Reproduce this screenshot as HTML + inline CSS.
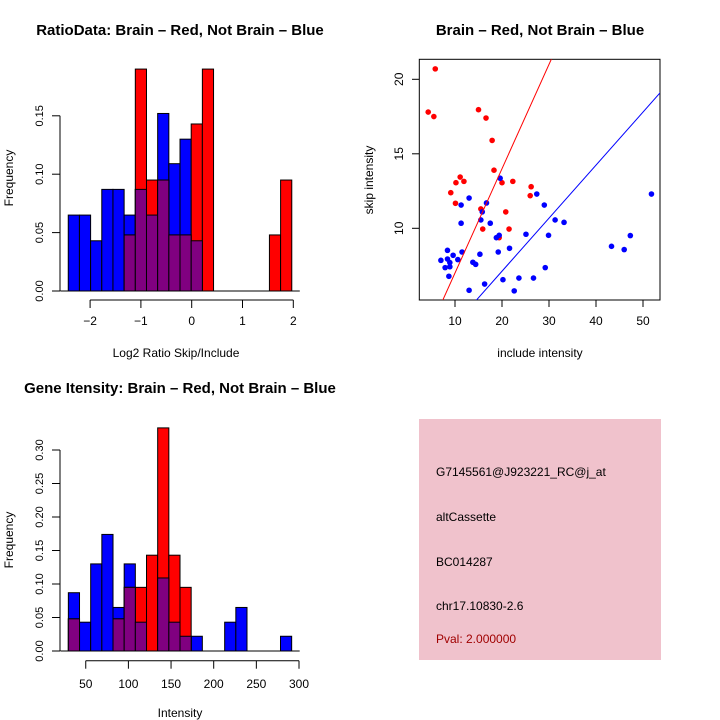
<!DOCTYPE html>
<html><head><meta charset="utf-8"><style>
html,body{margin:0;padding:0;background:#fff;}
svg{display:block;font-family:"Liberation Sans",sans-serif;}
</style></head><body>
<svg id="s" width="720" height="720" viewBox="0 0 720 720">
<rect x="0" y="0" width="720" height="720" fill="#fff"/>
<text x="180" y="35" font-size="15" font-weight="bold" text-anchor="middle">RatioData: Brain – Red, Not Brain – Blue</text>
<text x="176" y="357" font-size="12" text-anchor="middle">Log2 Ratio Skip/Include</text>
<text transform="translate(13,178) rotate(-90)" font-size="12" text-anchor="middle">Frequency</text>
<text x="540" y="35" font-size="15" font-weight="bold" text-anchor="middle">Brain – Red, Not Brain – Blue</text>
<text x="540" y="357" font-size="12" text-anchor="middle">include intensity</text>
<text transform="translate(373,180) rotate(-90)" font-size="12" text-anchor="middle">skip intensity</text>
<text x="180" y="393" font-size="15" font-weight="bold" text-anchor="middle">Gene Itensity: Brain – Red, Not Brain – Blue</text>
<text x="180" y="717" font-size="12" text-anchor="middle">Intensity</text>
<text transform="translate(13,540) rotate(-90)" font-size="12" text-anchor="middle">Frequency</text>
<g>
<rect x="419" y="419" width="242" height="241" fill="#f0c2cc"/>
<text x="436" y="476" font-size="12">G7145561@J923221_RC@j_at</text>
<text x="436" y="521" font-size="12">altCassette</text>
<text x="436" y="566" font-size="12">BC014287</text>
<text x="436" y="610" font-size="12">chr17.10830-2.6</text>
<text x="436" y="643" font-size="12" fill="#a00000">Pval: 2.000000</text>
</g>
</svg>
<script>
// Ratio histogram data
const ratioStart = -2.43, ratioWidth = 0.22;
const ratioBlue = [0.065,0.065,0.043,0.087,0.087,0.065,0.087,0.065,0.152,0.109,0.130,0.043,0,0,0,0,0,0,0,0];
const ratioRed  = [0,0,0,0,0,0.048,0.19,0.095,0.095,0.048,0.048,0.143,0.19,0,0,0,0,0,0.048,0.095];
const ratioYTicks = [0,0.05,0.10,0.15];
const ratioYLabels = ["0.00","0.05","0.10","0.15"];
const ratioXTicks = [-2,-1,0,1,2];
// Intensity histogram data
const intStart = 29.6, intWidth = 13.09;
const intBlue = [0.087,0.043,0.13,0.174,0.065,0.13,0.043,0,0.109,0.043,0.022,0.022,0,0,0.043,0.065,0,0,0,0.022];
const intRed  = [0.048,0,0,0,0.048,0.095,0.095,0.143,0.333,0.143,0.095,0,0,0,0,0,0,0,0,0];
const intYTicks = [0,0.05,0.10,0.15,0.20,0.25,0.30];
const intYLabels = ["0.00","0.05","0.10","0.15","0.20","0.25","0.30"];
const intXTicks = [50,100,150,200,250,300];
// Scatter data
const redX = [5.8,4.3,5.5,15.0,16.6,17.9,18.3,11.1,10.2,11.9,9.1,10.1,20.0,22.3,26.2,26.0,15.5,20.8,15.9,21.5,19.4];
const redY = [20.7,17.8,17.5,17.96,17.4,15.9,13.9,13.44,13.06,13.15,12.39,11.68,13.06,13.15,12.79,12.19,11.3,11.1,9.95,9.95,9.37];
const blueX = [19.6,13.0,27.4,51.8,11.3,16.7,29.0,15.8,11.3,15.5,17.5,31.3,33.2,25.1,29.9,19.4,18.8,47.3,43.3,46.0,21.6,19.2,15.3,11.5,8.4,9.6,7.0,8.4,10.6,8.9,13.8,14.4,7.9,8.9,29.2,8.7,20.2,23.6,26.7,16.3,13.0,22.6];
const blueY = [13.36,12.03,12.3,12.3,11.56,11.7,11.56,11.1,10.34,10.56,10.34,10.56,10.4,9.6,9.53,9.53,9.37,9.51,8.79,8.57,8.66,8.41,8.26,8.41,8.52,8.19,7.85,7.94,7.9,7.7,7.72,7.58,7.36,7.42,7.36,6.78,6.55,6.66,6.66,6.26,5.84,5.8];
const redSlope = 0.7, blueSlope = 0.356;
const scatterXTicks = [10,20,30,40,50];
const scatterYTicks = [10,15,20];

const NS = "http://www.w3.org/2000/svg";
const svg = document.getElementById('s');
function mk(tag, attrs, parent){ const e=document.createElementNS(NS,tag); for(const k in attrs) e.setAttribute(k,attrs[k]); (parent||svg).appendChild(e); return e; }

function hist(name, start, width, blue, red, xs, ys, x0px, pxPerX, y0px, pxPerY, yTicks, yLabels, xTicks, xAxisY, labelY){
  const g = mk('g',{});
  
  
  const X = v => x0px + v*pxPerX, Y = v => y0px - v*pxPerY;
  const layers = [[blue,'#0000ff','blue'],[red,'#ff0000','red']];
  for (const [arr,col,lab] of layers){
    arr.forEach((v,i)=>{ if(v<=0) return;
      const r = mk('rect',{x:X(start+i*width),y:Y(v),width:width*pxPerX,height:v*pxPerY,fill:col,stroke:'#000','stroke-width':1},g);
      
      
    });
  }
  blue.forEach((v,i)=>{ const m=Math.min(v,red[i]); if(m<=0) return;
    const r = mk('rect',{x:X(start+i*width),y:Y(m),width:width*pxPerX,height:m*pxPerY,fill:'#800080',stroke:'#000','stroke-width':1},g);
    
    
  });
  mk('line',{x1:X(start)-8,x2:X(start+blue.length*width)+8,y1:y0px,y2:y0px,stroke:'#000'},g);
  const ya = mk('g',{},g);
  
  
  mk('line',{x1:60,x2:60,y1:Y(yTicks[0]),y2:Y(yTicks[yTicks.length-1]),stroke:'#000'},ya);
  yTicks.forEach((t,i)=>{ mk('line',{x1:52,x2:60,y1:Y(t),y2:Y(t),stroke:'#000'},ya);
    const tx = mk('text',{transform:`translate(43,${Y(t)}) rotate(-90)`,'font-size':11,'text-anchor':'middle'},ya); tx.textContent=yLabels[i]; });
  const xa = mk('g',{},g);
  
  
  mk('line',{x1:X(xTicks[0]),x2:X(xTicks[xTicks.length-1]),y1:xAxisY,y2:xAxisY,stroke:'#000'},xa);
  xTicks.forEach(t=>{ mk('line',{x1:X(t),x2:X(t),y1:xAxisY,y2:xAxisY+8,stroke:'#000'},xa);
    const tx = mk('text',{x:X(t),y:labelY,'font-size':12,'text-anchor':'middle'},xa); tx.textContent=String(t).replace('-','−'); });
}
hist('ratio-histogram', ratioStart, ratioWidth, ratioBlue, ratioRed, null, null, 191.7, 50.8, 291, 1168, ratioYTicks, ratioYLabels, ratioXTicks, 300, 325);
hist('intensity-histogram', intStart, intWidth, intBlue, intRed, null, null, 43.1, 0.853, 651, 670, intYTicks, intYLabels, intXTicks, 660.7, 688);

(function(){
  const sx = v => 408 + v*4.7, sy = v => 228.3 - (v-10)*14.9;
  const g = mk('g',{});
  
  
  const cp = mk('clipPath',{id:'cp'},g); mk('rect',{x:419.3,y:59.3,width:240.7,height:240.7},cp);
  const box = mk('rect',{x:419.3,y:59.3,width:240.7,height:240.7,fill:'none',stroke:'#000'},g);
  
  
  redX.forEach((x,i)=>{ const c=mk('circle',{cx:sx(x),cy:sy(redY[i]),r:2.8,fill:'#ff0000'},g);
    
     });
  blueX.forEach((x,i)=>{ const c=mk('circle',{cx:sx(x),cy:sy(blueY[i]),r:2.8,fill:'#0000ff'},g);
    
     });
  const lines = [[redSlope,'#ff0000','red-fit-line'],[blueSlope,'#0000ff','blue-fit-line']];
  for(const [s,c,n] of lines){
    const l = mk('line',{x1:sx(0),y1:sy(0),x2:sx(60),y2:sy(60*s),stroke:c,'stroke-width':1,'clip-path':'url(#cp)'},g);
    
    
  }
  scatterXTicks.forEach(t=>{ mk('line',{x1:sx(t),x2:sx(t),y1:300,y2:307,stroke:'#000'},g);
    const tx=mk('text',{x:sx(t),y:325,'font-size':12,'text-anchor':'middle'},g); tx.textContent=t; });
  scatterYTicks.forEach(t=>{ mk('line',{x1:412,x2:419.3,y1:sy(t),y2:sy(t),stroke:'#000'},g);
    const tx=mk('text',{transform:`translate(403,${sy(t)}) rotate(-90)`,'font-size':12,'text-anchor':'middle'},g); tx.textContent=t; });
})();
</script>
</body></html>
